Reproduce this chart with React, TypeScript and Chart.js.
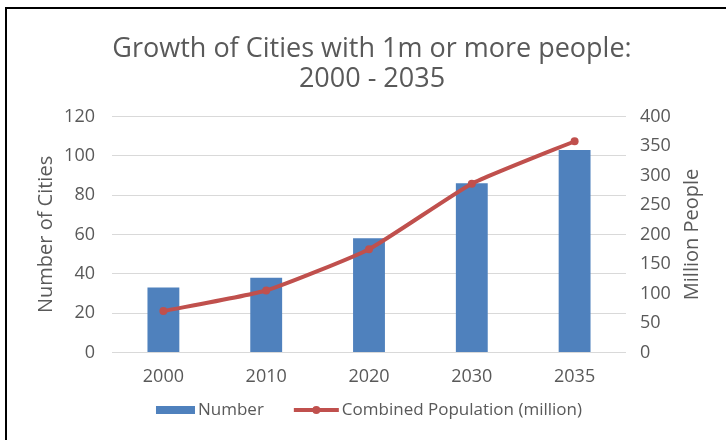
import React, { useEffect, useRef } from "react";
import { Chart, registerables } from "chart.js";

Chart.register(...registerables);

const years = ["2000", "2010", "2020", "2030", "2035"];
const numberOfCities = [33, 38, 58, 86, 103];
const combinedPopulation = [70, 105, 175, 286, 358];
const titleLines = ["Growth of Cities with 1m or more people:", "2000 - 2035"];
const barLabel = "Number";
const lineLabel = "Combined Population (million)";
const leftAxisTitle = "Number of Cities";
const rightAxisTitle = "Million People";

const FONT = "'Open Sans', sans-serif";
const TEXT = "#595959";
const BLUE = "#4F81BD";
const RED = "#C0504D";

const extrasPlugin = {
  id: "extras",
  afterDraw(chart: any) {
    const ctx: CanvasRenderingContext2D = chart.ctx;
    const area = chart.chartArea;
    ctx.save();
    // right axis title, reading bottom-to-top
    ctx.font = `20px ${FONT}`;
    ctx.fillStyle = TEXT;
    ctx.textAlign = "center";
    ctx.textBaseline = "middle";
    ctx.translate(692, (area.top + area.bottom) / 2);
    ctx.rotate(-Math.PI / 2);
    ctx.fillText(rightAxisTitle, 0, 0);
    ctx.restore();

    // legend
    ctx.save();
    ctx.font = `17px ${FONT}`;
    ctx.textBaseline = "middle";
    ctx.textAlign = "left";
    const y = 410;
    const barW = 39;
    const lineW = 45;
    const gapIcon = 3;
    const gapItems = 30;
    const w1 = ctx.measureText(barLabel).width;
    const w2 = ctx.measureText(lineLabel).width;
    const total = barW + gapIcon + w1 + gapItems + lineW + gapIcon + w2;
    let x = (area.left + area.right) / 2 - total / 2;
    ctx.fillStyle = BLUE;
    ctx.fillRect(x, y - 4, barW, 8);
    x += barW + gapIcon;
    ctx.fillStyle = TEXT;
    ctx.fillText(barLabel, x, y);
    x += w1 + gapItems;
    ctx.strokeStyle = RED;
    ctx.lineWidth = 4;
    ctx.beginPath();
    ctx.moveTo(x, y);
    ctx.lineTo(x + lineW, y);
    ctx.stroke();
    ctx.fillStyle = RED;
    ctx.beginPath();
    ctx.arc(x + lineW / 2, y, 4, 0, Math.PI * 2);
    ctx.fill();
    x += lineW + gapIcon;
    ctx.fillStyle = TEXT;
    ctx.fillText(lineLabel, x, y);
    ctx.restore();
  },
};

export default function App() {
  const ref = useRef<HTMLCanvasElement>(null);

  useEffect(() => {
    if (!ref.current) return;
    const chart = new Chart(ref.current, {
      type: "bar",
      data: {
        labels: years,
        datasets: [
          {
            type: "line",
            label: lineLabel,
            data: combinedPopulation,
            yAxisID: "y1",
            borderColor: RED,
            backgroundColor: RED,
            borderWidth: 4,
            pointRadius: 4,
            pointBackgroundColor: RED,
            pointBorderWidth: 0,
            tension: 0.15,
            order: 0,
          } as any,
          {
            type: "bar",
            label: barLabel,
            data: numberOfCities,
            yAxisID: "y",
            backgroundColor: BLUE,
            categoryPercentage: 0.31,
            barPercentage: 1,
            order: 1,
          },
        ],
      },
      options: {
        responsive: false,
        animation: false,
        layout: { padding: { left: 18, right: 0, top: 0, bottom: 38 } },
        plugins: {
          tooltip: { enabled: false },
          legend: { display: false },
          title: {
            display: true,
            text: titleLines,
            color: TEXT,
            font: { family: FONT, size: 27, weight: "normal", lineHeight: 1.12 },
            padding: { top: 34, bottom: 22 },
          },
        },
        scales: {
          x: {
            grid: { display: false, drawTicks: false },
            border: { display: false },
            ticks: { color: TEXT, font: { family: FONT, size: 18 }, padding: 14 },
          },
          y: {
            position: "left",
            min: 0,
            max: 120,
            afterFit: (s: any) => {
              s.width = 94;
            },
            ticks: { stepSize: 20, color: TEXT, font: { family: FONT, size: 18 }, padding: 17 },
            grid: { color: "#D9D9D9", drawTicks: false, lineWidth: 1 },
            border: { display: false },
            title: {
              display: true,
              text: leftAxisTitle,
              color: TEXT,
              font: { family: FONT, size: 20 },
              padding: { top: 16, bottom: 0 },
            },
          },
          y1: {
            position: "right",
            min: 0,
            max: 400,
            afterFit: (s: any) => {
              s.width = 100;
            },
            ticks: { stepSize: 50, color: TEXT, font: { family: FONT, size: 18 }, padding: 14 },
            grid: { display: false, drawTicks: false },
            border: { display: false },
          },
        },
      },
      plugins: [extrasPlugin],
    });
    return () => chart.destroy();
  }, []);

  return (
    <div
      style={{
        position: "absolute",
        left: 0,
        top: 0,
        width: 726,
        height: 440,
        background: "#fff",
        overflow: "hidden",
      }}
    >
      <canvas ref={ref} width={726} height={440} style={{ display: "block" }} />
      <div
        style={{
          position: "absolute",
          left: 5,
          top: 7,
          right: -4,
          bottom: -4,
          borderLeft: "2px solid #000",
          borderTop: "2px solid #000",
          pointerEvents: "none",
        }}
      />
    </div>
  );
}
